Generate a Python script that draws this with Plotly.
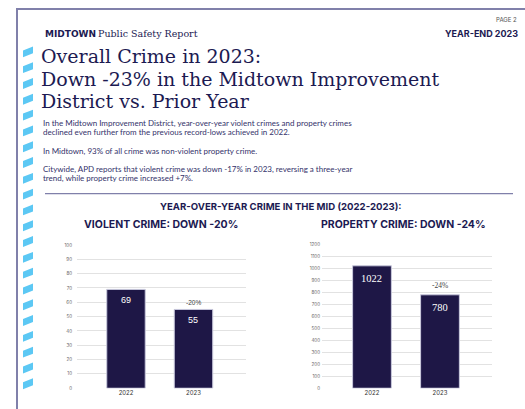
import plotly.graph_objects as go

# ---------------- data ----------------
years = ["2022", "2023"]
violent = [69, 55]
property_crime = [1022, 780]
violent_change = "-20%"
property_change = "-24%"
violent_ticks = [0, 10, 20, 30, 40, 50, 60, 70, 80, 90, 100]
property_ticks = [0, 100, 200, 300, 400, 500, 600, 700, 800, 900, 1000, 1100, 1200]

W, H = 525, 409
NAVY = "#1c1a52"
BAR = "#1e1746"
BORDER = "#8080aa"
STRIPE = "#5cc8f4"
GRID = "#e2e2e2"


def X(px):
    return px / W


def Y(py):
    return 1 - py / H


fig = go.Figure()

fig.add_trace(go.Bar(x=years, y=violent, xaxis="x", yaxis="y", width=0.57,
                     marker=dict(color=BAR, line=dict(color="#c9c9dd", width=1)),
                     hoverinfo="skip", showlegend=False))
fig.add_trace(go.Bar(x=years, y=property_crime, xaxis="x2", yaxis="y2", width=0.57,
                     marker=dict(color=BAR, line=dict(color="#c9c9dd", width=1)),
                     hoverinfo="skip", showlegend=False))

ann = []
# value labels inside bar tops (x given as category index)
for i, v in enumerate(violent):
    ann.append(dict(x=i, y=v, xref="x", yref="y", text=str(v), showarrow=False,
                    yanchor="top", yshift=-4, font=dict(family="Liberation Sans", size=9, color="white")))
for i, v in enumerate(property_crime):
    ann.append(dict(x=i, y=v, xref="x2", yref="y2", text=str(v), showarrow=False,
                    yanchor="top", yshift=-5, font=dict(family="Liberation Serif", size=10.5, color="white")))
ann.append(dict(x=1, y=violent[1], xref="x", yref="y", text=violent_change, showarrow=False,
                yanchor="bottom", yshift=1, font=dict(family="Liberation Sans", size=6.5, color="#444")))
ann.append(dict(x=1, y=property_crime[1], xref="x2", yref="y2", text=property_change, showarrow=False,
                yanchor="bottom", yshift=3, font=dict(family="Liberation Serif", size=7.5, color="#444")))


def txt(x, y, text, size, color=NAVY, family="Lato", xanchor="left", weight="normal"):
    ann.append(dict(x=X(x), y=Y(y), xref="paper", yref="paper", text=text, showarrow=False,
                    xanchor=xanchor, yanchor="middle",
                    font=dict(family=family, size=size, color=color, weight=weight)))


# header
txt(43, 32, "MIDTOWN", 9, family="DejaVu Sans", weight="bold")
txt(96, 32, "Public Safety Report", 9.5, family="DejaVu Serif")
txt(519, 18, "PAGE 2", 6, color="#555", family="Inter", xanchor="right")
txt(520, 32, "YEAR-END 2023", 9, family="Inter", xanchor="right", weight="bold")

# title
title_lines = ["Overall Crime in 2023:", "Down -23% in the Midtown Improvement", "District vs. Prior Year"]
for i, line in enumerate(title_lines):
    txt(39, 55 + 22.5 * i, line, 19, family="DejaVu Serif")

# body
body = [
    (122, "In the Midtown Improvement District, year-over-year violent crimes and property crimes"),
    (132, "declined even further from the previous record-lows achieved in 2022."),
    (150.5, "In Midtown, 93% of all crime was non-violent property crime."),
    (169, "Citywide, APD reports that violent crime was down -17% in 2023, reversing a three-year"),
    (178.5, "trend, while property crime increased +7%."),
]
for y, t in body:
    txt(41, y, t, 8, color="#34326a", family="Lato")

txt(281, 207, "YEAR-OVER-YEAR CRIME IN THE MID (2022-2023):", 9.6, family="Inter", xanchor="center", weight="bold")
txt(82, 225.5, "VIOLENT CRIME: DOWN -20%", 10.5, family="Inter", weight="bold")
txt(319, 225.5, "PROPERTY CRIME: DOWN -24%", 10.5, family="Inter", weight="bold")

shapes = []
# page border (left and top)
shapes.append(dict(type="path", xref="paper", yref="paper",
                   path=f"M {X(17)} {Y(412)} L {X(17)} {Y(7)} L {X(528)} {Y(7)}",
                   line=dict(color=BORDER, width=2)))
# separator
shapes.append(dict(type="line", xref="paper", yref="paper", x0=X(45), x1=X(513), y0=Y(194), y1=Y(194),
                   line=dict(color=BORDER, width=1.3)))
# decorative stripes
for k in range(22):
    yc = 52 + 16 * k
    p = (f"M {X(23)} {Y(yc + 4)} L {X(23)} {Y(yc - 3)} L {X(33)} {Y(yc - 7)} "
         f"L {X(33)} {Y(yc)} Z")
    shapes.append(dict(type="path", xref="paper", yref="paper", path=p,
                       fillcolor=STRIPE, line=dict(width=0)))

axis_common = dict(showline=False, zeroline=False, fixedrange=True)

fig.update_layout(
    width=W, height=H, margin=dict(l=0, r=0, t=0, b=0),
    paper_bgcolor="white", plot_bgcolor="white",
    annotations=ann, shapes=shapes, showlegend=False,
    xaxis=dict(domain=[X(77), X(246)], range=[-0.726, 1.778], type="category",
               showgrid=False, ticks="", tickfont=dict(family="Inter", size=6, color="#333"),
               anchor="y", **axis_common),
    yaxis=dict(domain=[Y(391), Y(246)], range=[0, 100], tickvals=violent_ticks,
               showgrid=True, gridcolor=GRID, gridwidth=1.3, ticks="",
               tickfont=dict(family="Inter", size=4.5, color="#666"), ticklabelstandoff=4,
               anchor="x", **axis_common),
    xaxis2=dict(domain=[X(322), X(492)], range=[-0.735, 1.765], type="category",
                showgrid=False, ticks="", tickfont=dict(family="Inter", size=6, color="#333"),
                anchor="y2", **axis_common),
    yaxis2=dict(domain=[Y(391), Y(245.5)], range=[0, 1200], tickvals=property_ticks,
                showgrid=True, gridcolor=GRID, gridwidth=1.3, ticks="",
                tickfont=dict(family="Inter", size=4.5, color="#666"), ticklabelstandoff=1,
                anchor="x2", **axis_common),
)

fig.write_html("out.html", config=dict(displayModeBar=False),
               post_script="document.body.style.margin='0';document.body.style.overflow='hidden';")
